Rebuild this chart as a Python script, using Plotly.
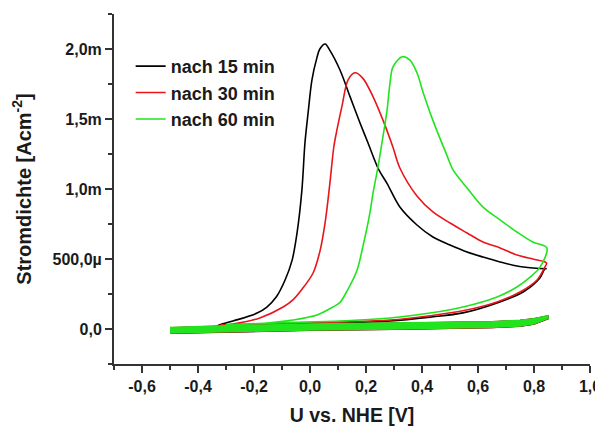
import plotly.graph_objects as go

# ---------------- data (current density in mA/cm^2, potential in V vs. NHE) ----------------
names = ["nach 15 min", "nach 30 min", "nach 60 min"]
colors = ["#000000", "#e8161b", "#22e41e"]

# black, 15 min
bk_fwd_x = [-0.33, -0.2, -0.05, 0.107, 0.286, 0.429, 0.546, 0.668, 0.761, 0.821, 0.839, 0.845]
bk_fwd_y = [0.025, 0.03, 0.037, 0.043, 0.057, 0.085, 0.115, 0.186, 0.264, 0.364, 0.43, 0.43]
bk_rev_x = [0.845, 0.839, 0.796, 0.739, 0.679, 0.618, 0.561, 0.5, 0.439, 0.382, 0.321, 0.275,
            0.245, 0.207, 0.179, 0.143, 0.107, 0.071, 0.054, 0.035, 0.025, 0.007, -0.007,
            -0.018, -0.029, -0.046, -0.064, -0.089, -0.12, -0.154, -0.189, -0.275, -0.33]
bk_rev_y = [0.43, 0.43, 0.436, 0.45, 0.479, 0.514, 0.55, 0.60, 0.657, 0.743, 0.871, 1.04,
            1.14, 1.33, 1.47, 1.66, 1.85, 1.99, 2.036, 2.0, 1.94, 1.78, 1.54,
            1.33, 0.99, 0.69, 0.49, 0.35, 0.23, 0.157, 0.114, 0.057, 0.025]

# red, 30 min
rd_fwd_x = [-0.3, -0.1, 0.107, 0.286, 0.429, 0.546, 0.668, 0.75, 0.811, 0.839, 0.845]
rd_fwd_y = [0.03, 0.04, 0.05, 0.064, 0.095, 0.13, 0.193, 0.264, 0.35, 0.443, 0.47]
rd_rev_x = [0.845, 0.839, 0.796, 0.739, 0.679, 0.618, 0.561, 0.5, 0.439, 0.382, 0.321, 0.296,
            0.261, 0.225, 0.189, 0.161, 0.136, 0.114, 0.096, 0.085, 0.071, 0.054, 0.036,
            0.011, -0.03, -0.06, -0.096, -0.179, -0.275, -0.32]
rd_rev_y = [0.47, 0.479, 0.50, 0.529, 0.579, 0.621, 0.686, 0.757, 0.836, 0.95, 1.15, 1.30,
            1.49, 1.66, 1.79, 1.83, 1.78, 1.59, 1.42, 1.30, 1.04, 0.76, 0.56,
            0.40, 0.28, 0.21, 0.157, 0.079, 0.036, 0.03]

# green, 60 min
gn_fwd_x = [-0.3, -0.1, 0.107, 0.286, 0.429, 0.546, 0.668, 0.739, 0.786, 0.821, 0.846]
gn_fwd_y = [0.03, 0.045, 0.057, 0.079, 0.114, 0.157, 0.229, 0.30, 0.371, 0.44, 0.579]
gn_rev_x = [0.846, 0.796, 0.739, 0.679, 0.618, 0.561, 0.511, 0.489, 0.439, 0.404, 0.382,
            0.357, 0.329, 0.296, 0.286, 0.275, 0.261, 0.243, 0.225, 0.214, 0.189, 0.168,
            0.132, 0.107, 0.082, 0.025, -0.061, -0.154, -0.3]
gn_rev_y = [0.579, 0.621, 0.693, 0.779, 0.871, 1.007, 1.136, 1.24, 1.49, 1.69, 1.83,
            1.92, 1.945, 1.87, 1.76, 1.56, 1.38, 1.16, 0.97, 0.83, 0.59, 0.42,
            0.27, 0.19, 0.157, 0.10, 0.064, 0.043, 0.03]

# low-current band (first cycle), forward and backward
band_x = [-0.5, -0.3, 0.0, 0.3, 0.5, 0.65, 0.75, 0.8, 0.85]
bk_band_up = [0.008, 0.02, 0.032, 0.038, 0.043, 0.05, 0.06, 0.072, 0.092]
bk_band_lo = [-0.03, -0.021, -0.009, -0.002, 0.004, 0.01, 0.02, 0.035, 0.074]
rd_band_up = [0.009, 0.021, 0.033, 0.039, 0.044, 0.051, 0.061, 0.073, 0.093]
rd_band_lo = [-0.029, -0.02, -0.008, -0.001, 0.005, 0.011, 0.021, 0.036, 0.075]
gn_band_up = [0.011, 0.023, 0.035, 0.041, 0.045, 0.052, 0.062, 0.074, 0.095]
gn_band_lo = [-0.028, -0.019, -0.007, 0.0, 0.006, 0.012, 0.022, 0.037, 0.076]

x_tickvals = [-0.6, -0.4, -0.2, 0.0, 0.2, 0.4, 0.6, 0.8, 1.0]
x_ticktext = ["-0,6", "-0,4", "-0,2", "0,0", "0,2", "0,4", "0,6", "0,8", "1,0"]
y_tickvals = [0.0, 0.5e-3, 1.0e-3, 1.5e-3, 2.0e-3]
y_ticktext = ["0,0", "500,0µ", "1,0m", "1,5m", "2,0m"]

series = [
    (bk_fwd_x, bk_fwd_y, bk_rev_x, bk_rev_y, bk_band_up, bk_band_lo),
    (rd_fwd_x, rd_fwd_y, rd_rev_x, rd_rev_y, rd_band_up, rd_band_lo),
    (gn_fwd_x, gn_fwd_y, gn_rev_x, gn_rev_y, gn_band_up, gn_band_lo),
]

fig = go.Figure()
for (fx, fy, rx, ry, bu, bl), name, col in zip(series, names, colors):
    # low-current band
    bx = band_x + band_x[::-1]
    by = [v * 1e-3 for v in bu + bl[::-1]]
    fig.add_trace(go.Scatter(x=bx, y=by, mode="lines", name=name, showlegend=False,
                             fill="toself", fillcolor=col,
                             line=dict(color=col, width=1.5), legendgroup=name))
    # main loop (forward + reverse), in A
    x = fx + rx[1:]
    y = [v * 1e-3 for v in fy + ry[1:]]
    fig.add_trace(go.Scatter(x=x, y=y, mode="lines", name=name,
                             line=dict(color=col, width=1.6, shape="spline", smoothing=0.9),
                             legendgroup=name))

axis_common = dict(
    showline=True, linewidth=2, linecolor="#333333", mirror=False,
    showgrid=False, zeroline=False, ticks="outside", tickcolor="#333333",
    tickwidth=1.5, tickfont=dict(size=16, weight="bold", color="#1a1a1a"),
    automargin=False,
)

# page body has an 8px default margin: figure is sized so the plot lands where the reference has it
fig.update_layout(
    width=595, height=418,
    margin=dict(l=106, r=13, t=6, b=62),
    plot_bgcolor="white", paper_bgcolor="white",
    font=dict(family="Liberation Sans, Arial, sans-serif", size=16, color="#1a1a1a"),
    legend=dict(x=0.035, y=0.903, xanchor="left", yanchor="top",
                font=dict(size=18, weight="bold", color="#1a1a1a"),
                bgcolor="rgba(0,0,0,0)", tracegroupgap=0),
    xaxis=dict(range=[-0.7, 1.0], tickmode="array", tickvals=x_tickvals, ticktext=x_ticktext,
               ticklen=7,
               minor=dict(ticks="outside", ticklen=4, tick0=-0.7, dtick=0.1,
                          tickcolor="#333333", tickwidth=1.5),
               title=dict(text="U vs. NHE [V]", font=dict(size=19.5, weight="bold"), standoff=22),
               **axis_common),
    yaxis=dict(range=[-0.25e-3, 2.25e-3], tickmode="array", tickvals=y_tickvals, ticktext=y_ticktext,
               ticklen=7,
               minor=dict(ticks="outside", ticklen=4, tick0=-0.25e-3, dtick=0.25e-3,
                          tickcolor="#333333", tickwidth=1.5),
               title=dict(text="Stromdichte [Acm<sup>-2</sup>]", font=dict(size=20, weight="bold"),
                          standoff=16),
               **axis_common),
)

fig.write_html("out.html")
